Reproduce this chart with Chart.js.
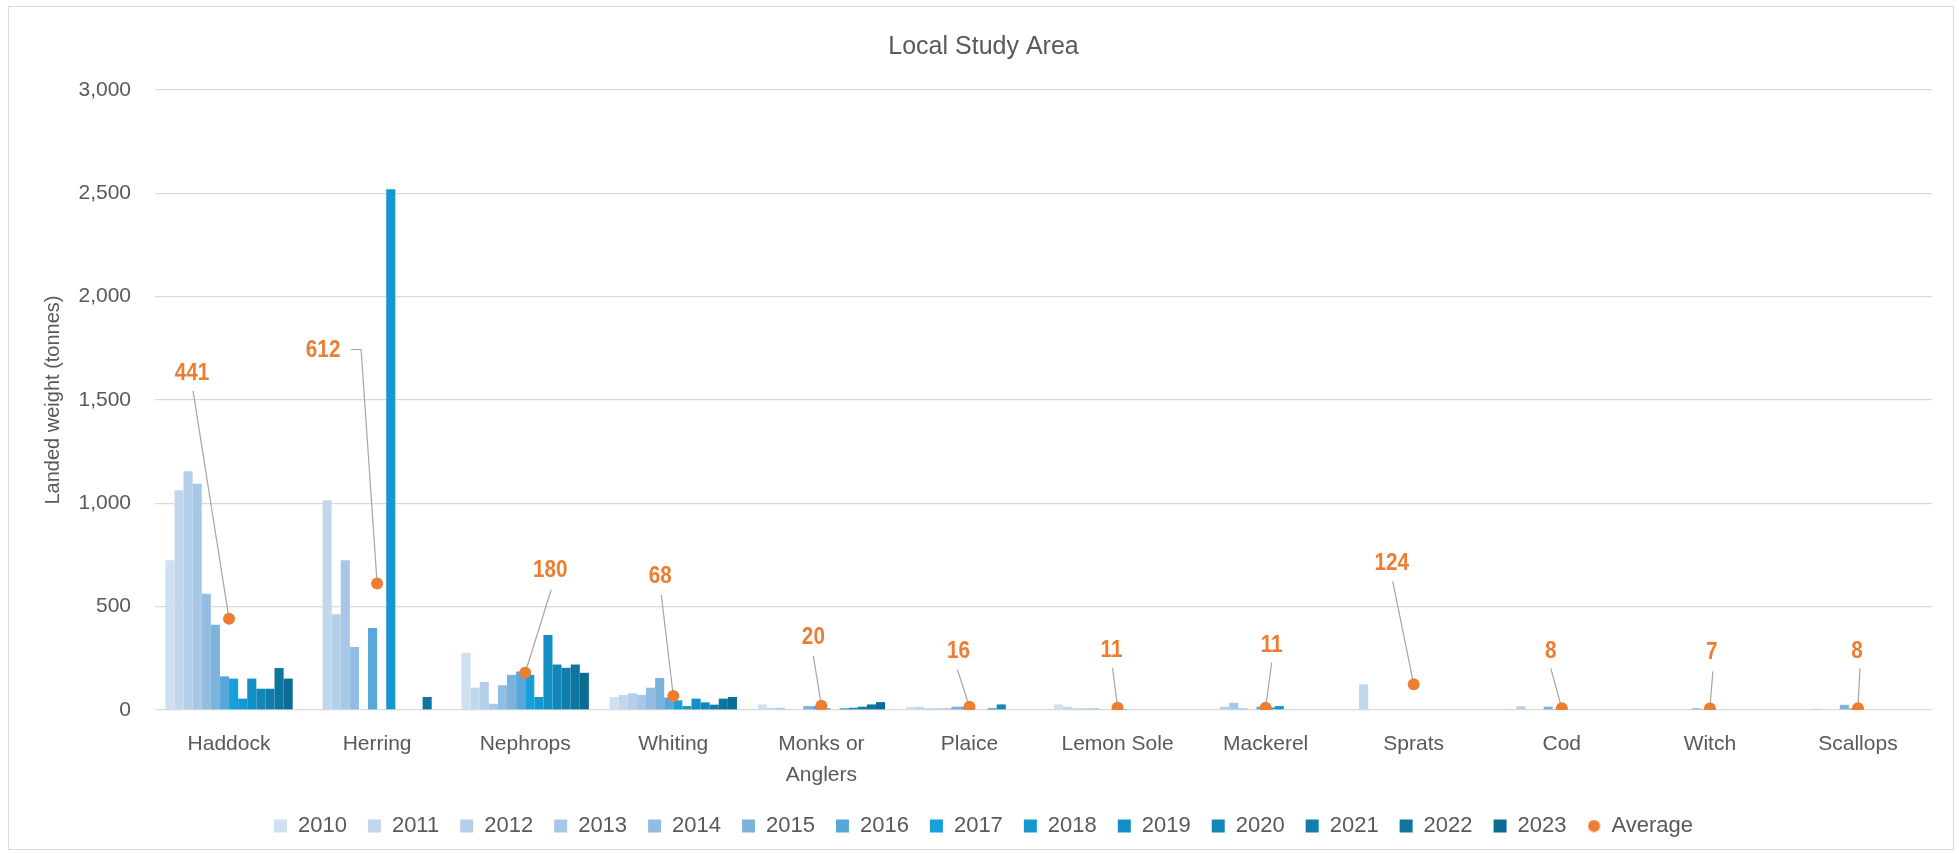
<!DOCTYPE html>
<html>
<head>
<meta charset="utf-8">
<title>Local Study Area</title>
<script src="https://cdn.jsdelivr.net/npm/chart.js@4.4.1/dist/chart.umd.min.js"></script>
<style>
  html, body { margin: 0; padding: 0; background: #fff; }
  #wrap { position: relative; width: 1959px; height: 854px; }
  #frame {
    position: absolute; left: 8px; top: 6px; width: 1946px; height: 844px;
    border: 1px solid #d9d9d9; box-sizing: border-box; pointer-events: none;
  }
</style>
</head>
<body>
<div id="wrap">
  <canvas id="chart" width="1959" height="854"></canvas>
  <div id="frame"></div>
</div>
<script>
// Data --------------------
const species = ['Haddock', 'Herring', 'Nephrops', 'Whiting', ['Monks or', 'Anglers'], 'Plaice',
  'Lemon Sole', 'Mackerel', 'Sprats', 'Cod', 'Witch', 'Scallops'];
const years = ['2010', '2011', '2012', '2013', '2014', '2015', '2016',
  '2017', '2018', '2019', '2020', '2021', '2022', '2023'];

// landed weight (tonnes) per year, one value per species
const w2010 = [724, 0, 277, 63, 27, 16, 27, 0, 0, 0, 0, 0];
const w2011 = [1063, 1015, 108, 73, 11, 16, 16, 0, 124, 5, 0, 0];
const w2012 = [1155, 463, 136, 81, 11, 8, 8, 16, 0, 18, 0, 6];
const w2013 = [1095, 724, 30, 73, 0, 8, 8, 35, 0, 0, 0, 0];
const w2014 = [563, 305, 120, 108, 0, 8, 8, 8, 0, 0, 0, 0];
const w2015 = [413, 0, 170, 155, 19, 16, 0, 0, 0, 16, 8, 25];
const w2016 = [163, 397, 186, 60, 19, 16, 0, 16, 0, 5, 5, 8];
const w2017 = [152, 0, 170, 47, 8, 0, 5, 12, 0, 0, 0, 0];
const w2018 = [55, 2520, 63, 19, 0, 0, 0, 19, 0, 0, 0, 0];
const w2019 = [152, 0, 363, 55, 8, 8, 0, 0, 0, 0, 0, 0];
const w2020 = [103, 0, 220, 37, 11, 27, 0, 0, 0, 0, 0, 0];
const w2021 = [103, 0, 204, 26, 16, 0, 0, 0, 0, 0, 0, 0];
const w2022 = [203, 63, 220, 55, 27, 0, 0, 0, 0, 0, 0, 0];
const w2023 = [152, 0, 180, 63, 38, 0, 0, 0, 0, 0, 0, 0];
const average = [441, 612, 180, 68, 20, 16, 11, 11, 124, 8, 7, 8];

const yTicks = [0, 500, 1000, 1500, 2000, 2500, 3000];

// Styles --------------------
const yearSeries = [w2010, w2011, w2012, w2013, w2014, w2015, w2016,
  w2017, w2018, w2019, w2020, w2021, w2022, w2023];
const yearColors = ['#cfe0f0', '#c0d7ec', '#b3cfea', '#a6c8e6', '#90bde1', '#7cb3dd', '#58a7da',
  '#15a0db', '#1498d0', '#1290c5', '#1187b9', '#0f7ead', '#0e75a0', '#0c6c94'];
const ORANGE = '#ed7d31';
const TEXT = '#595959';
const GRID = '#d9d9d9';

// callout label offsets from each average point: [labelDx, labelDy, lineDx, lineDy, elbowDx]
const callouts = [
  [-37, -245, -36, -228],
  [-54, -233, -26, -234, -16],
  [25, -102, 26, -83],
  [-13, -119, -12, -101],
  [-8, -68, -8, -50],
  [-11, -55, -12, -37],
  [-6, -57, -5, -40],
  [6, -62, 6, -45],
  [-22, -121, -21, -103],
  [-11, -57, -11, -40],
  [2, -56, 3, -37],
  [-1, -57, 2, -40],
];

const AVG_INDEX = years.length;

// small dot used as the legend marker of the average series
const avgDot = document.createElement('canvas');
avgDot.width = 13;
avgDot.height = 13;
(() => {
  const c = avgDot.getContext('2d');
  c.fillStyle = ORANGE;
  c.beginPath();
  c.arc(6.5, 6.5, 6, 0, Math.PI * 2);
  c.fill();
})();

// Plugins --------------------
const calloutPlugin = {
  id: 'callouts',
  beforeDatasetDraw(chart, args) {
    if (args.index !== AVG_INDEX) return;
    const { ctx } = chart;
    const pts = chart.getDatasetMeta(AVG_INDEX).data;
    ctx.save();
    ctx.strokeStyle = '#a6a6a6';
    ctx.lineWidth = 1.2;
    pts.forEach((pt, i) => {
      const [, , lx, ly, ex] = callouts[i];
      ctx.beginPath();
      ctx.moveTo(pt.x + lx, pt.y + ly);
      if (ex !== undefined) ctx.lineTo(pt.x + ex, pt.y + ly);
      ctx.lineTo(pt.x, pt.y);
      ctx.stroke();
    });
    ctx.restore();
  },
  afterDatasetsDraw(chart) {
    const { ctx } = chart;
    const pts = chart.getDatasetMeta(AVG_INDEX).data;
    ctx.save();
    ctx.fillStyle = ORANGE;
    ctx.font = "bold 23px 'Liberation Sans', Arial, sans-serif";
    ctx.textAlign = 'center';
    ctx.textBaseline = 'middle';
    pts.forEach((pt, i) => {
      const [dx, dy] = callouts[i];
      // slightly condensed, like the narrow bold labels of the original
      ctx.save();
      ctx.translate(pt.x + dx, pt.y + dy);
      ctx.scale(0.9, 1);
      ctx.fillText(String(average[i]), 0, 0);
      ctx.restore();
    });
    ctx.restore();
  },
};

// Chart --------------------
const datasets = yearSeries.map((values, i) => ({
  type: 'bar',
  label: years[i],
  data: values,
  backgroundColor: yearColors[i],
  borderWidth: 0,
  categoryPercentage: 0.86,
  barPercentage: 1.0,
}));

datasets.push({
  type: 'line',
  label: 'Average',
  data: average,
  showLine: false,
  order: -1,
  pointRadius: 6,
  pointHoverRadius: 6,
  pointBackgroundColor: ORANGE,
  pointBorderColor: ORANGE,
  pointBorderWidth: 0,
});

Chart.defaults.font.family = "'Liberation Sans', Arial, sans-serif";
Chart.defaults.color = TEXT;

new Chart(document.getElementById('chart'), {
  type: 'bar',
  data: { labels: species, datasets },
  plugins: [calloutPlugin],
  options: {
    responsive: false,
    animation: false,
    layout: { padding: { left: 35, right: 27, top: 0, bottom: 7 } },
    plugins: {
      title: {
        display: true,
        text: 'Local Study Area',
        color: TEXT,
        font: { size: 25, weight: 'normal' },
        padding: { top: 32, bottom: 28 },
      },
      legend: {
        position: 'bottom',
        labels: {
          color: TEXT,
          font: { size: 22 },
          boxWidth: 13,
          boxHeight: 13,
          padding: 21,
          usePointStyle: true,
          sort: (a, b) => a.datasetIndex - b.datasetIndex,
          generateLabels(chart) {
            const items = Chart.defaults.plugins.legend.labels.generateLabels(chart);
            items.forEach(item => {
              item.pointStyle = item.datasetIndex === AVG_INDEX ? avgDot : 'rect';
              item.lineWidth = 0;
            });
            return items;
          },
        },
      },
      tooltip: { enabled: false },
    },
    scales: {
      x: {
        grid: { display: false },
        border: { display: false },
        ticks: {
          color: TEXT,
          font: { size: 21, lineHeight: 1.5 },
          padding: 10,
          maxRotation: 0,
          autoSkip: false,
        },
        afterFit(scale) { scale.height = 84; },
      },
      y: {
        min: 0,
        max: 3000,
        grid: { color: GRID, lineWidth: 1.3, drawTicks: false },
        border: { display: false },
        afterBuildTicks(scale) { scale.ticks = yTicks.map(v => ({ value: v })); },
        ticks: {
          color: TEXT,
          font: { size: 21 },
          padding: 24,
          callback: v => v.toLocaleString('en-US'),
        },
        title: {
          display: true,
          text: 'Landed weight (tonnes)',
          color: TEXT,
          font: { size: 20 },
          padding: { top: 6, bottom: 0 },
        },
        afterFit(scale) { scale.width = 120; },
      },
    },
  },
});
</script>
</body>
</html>
